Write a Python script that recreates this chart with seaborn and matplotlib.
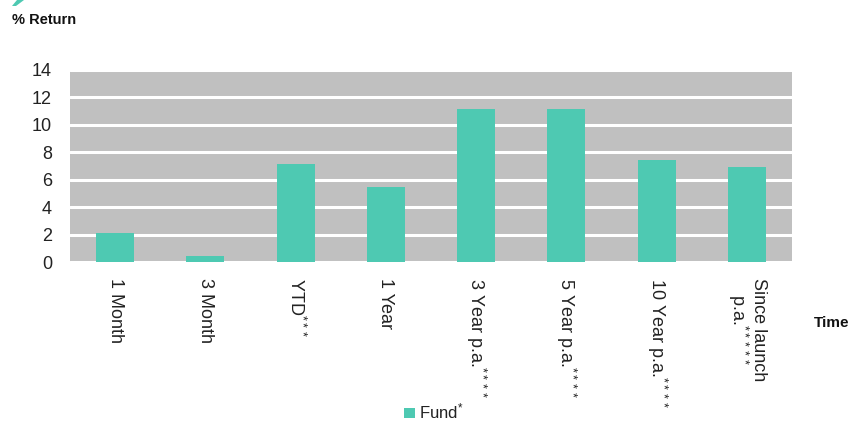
import matplotlib
matplotlib.use("Agg")
import matplotlib.pyplot as plt
import seaborn as sns
import pandas as pd
from matplotlib.patches import Polygon, Rectangle

categories = ["1 Month", "3 Month", "YTD$^{***}$", "1 Year", "3 Year p.a.$^{****}$",
              "5 Year p.a.$^{****}$", "10 Year p.a.$^{****}$", "Since launch\np.a.$^{*****}$"]
fund_values = [2.15, 0.48, 7.13, 5.48, 11.12, 11.12, 7.42, 6.93]
yticks = [0, 2, 4, 6, 8, 10, 12, 14]
series_name = "Fund$^{*}$"

sns.set_theme(style="white")
plt.rcParams['font.family'] = ['Liberation Sans', 'DejaVu Sans']
plt.rcParams['mathtext.fontset'] = 'custom'
plt.rcParams['mathtext.rm'] = 'Liberation Sans'
plt.rcParams['mathtext.it'] = 'Liberation Sans'

teal = "#4ec9b2"
df = pd.DataFrame({"Time": categories, "Return": fund_values})

fig = plt.figure(figsize=(8.65, 4.21), dpi=100)
ax = fig.add_axes([70/865, 1-262.3/421, (792-70)/865, (262.3-69.5)/421])
ax.set_facecolor("#c0c0c0")
sns.barplot(data=df, x="Time", y="Return", color=teal, width=0.42, ax=ax,
            saturation=1, zorder=3, linewidth=0, edgecolor="none")
ax.set_ylim(0, 14)
ax.set_yticks(yticks)
ax.set_yticklabels([str(v) for v in yticks], fontsize=13, color="#222222")
ax.yaxis.grid(True, color="white", linewidth=2.2, zorder=1)
ax.set_axisbelow(True)
for s in ax.spines.values():
    s.set_visible(False)
ax.tick_params(axis="both", length=0)
ax.tick_params(axis="y", pad=13)
ax.tick_params(axis="x", pad=11)
ax.set_xticks(range(len(categories)))
ax.set_xticklabels(categories, rotation=270, fontsize=13, color="#222222",
                   ha="center", va="top", rotation_mode="default", linespacing=1.0)
ax.set_xlabel("")
ax.set_ylabel("")

fig.text(12/865, 1-20/421, "% Return", fontsize=10.5, fontweight="bold", color="#111111", va="center", ha="left")
fig.text(814/865, 1-323/421, "Time", fontsize=11, fontweight="bold", color="#111111", va="center", ha="left")

# legend
fig.patches.append(Rectangle((404/865, 1-418/421), 11/865, 10/421, transform=fig.transFigure,
                             facecolor=teal, edgecolor="none"))
fig.text(419/865, 1-411/421, series_name, fontsize=12, color="#222222", va="center", ha="left")

# decorative corner mark
fig.patches.append(Polygon([(17/865, 1), (24/865, 1), (16/865, 1-6/421), (12/865, 1-6/421)], closed=True,
                           transform=fig.transFigure, facecolor=teal, edgecolor="none"))

fig.savefig("out.png", dpi=100)
